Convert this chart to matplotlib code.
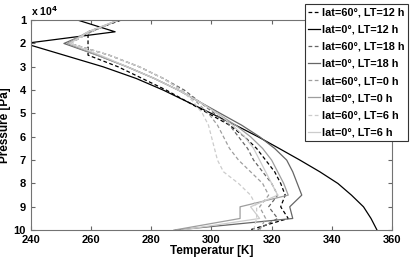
import matplotlib.pyplot as plt

# pressure levels in units of 1e4 Pa
p = [1.0, 1.5, 2.0, 2.5, 3.0, 3.5, 4.0, 4.5, 5.0, 5.5, 6.0, 6.5, 7.0, 7.5, 8.0, 8.5, 9.0, 9.5, 10.0]

# temperature profiles [K]
t60_12 = [270, 259, 259, 259, 269, 277, 285, 292, 299, 306, 311, 315, 318, 321, 323, 324.5, 323, 325.5, 312.5]
t0_12 = [255.6, 268, 238, 251, 264, 275, 284, 292, 300, 308, 315.5, 322.5, 329.4, 336, 342, 346.5, 350.5, 353, 355]
t60_18 = [269, 260, 253, 266, 276, 284, 291, 296, 301, 306, 309, 312, 314, 317, 320, 322, 319, 322, 315]
t0_18 = [269, 260, 251, 262, 272, 281, 289, 296, 303, 310, 316, 321, 325, 327, 328.5, 330, 326, 327, 288]
t60_0 = [269, 260, 253, 266, 276, 284, 290, 295, 299, 302, 304, 306, 309, 313, 317, 319, 316, 318, 316]
t0_0 = [269, 259, 252, 262, 272, 281, 289, 296, 302, 308, 313, 317, 320, 322, 324, 325.5, 309.5, 309.5, 287.5]
t60_6 = [269, 260, 253, 266, 276, 284, 290, 294, 297, 299, 300, 301, 302, 304, 309, 313, 315, 315, 314]
t0_6 = [269, 259, 253, 263, 272, 281, 289, 296, 302, 307, 311, 314, 316, 318, 320, 322, 313, 316, 290]

labels = ['lat=60°, LT=12 h', 'lat=0°, LT=12 h',
          'lat=60°, LT=18 h', 'lat=0°, LT=18 h',
          'lat=60°, LT=0 h', 'lat=0°, LT=0 h',
          'lat=60°, LT=6 h', 'lat=0°, LT=6 h']

plt.rcParams['font.family'] = ['Liberation Sans', 'DejaVu Sans']
plt.rcParams['font.weight'] = 'bold'

fig = plt.figure(figsize=(4.11, 2.58), dpi=100)
ax = fig.add_axes([0.075, 0.108, 0.879, 0.814])

series = [t60_12, t0_12, t60_18, t0_18, t60_0, t0_0, t60_6, t0_6]
colors = ['0.0', '0.0', '0.4', '0.4', '0.62', '0.62', '0.8', '0.8']
for i in range(8):
    if i % 2 == 0:
        ax.plot(series[i], p, color=colors[i], ls='--', dashes=(3, 2), lw=0.9, label=labels[i])
    else:
        ax.plot(series[i], p, color=colors[i], ls='-', lw=0.9, label=labels[i])

ax.set_xlim(240, 360)
ax.set_ylim(10, 1)
ax.set_xticks(range(240, 361, 20))
ax.set_yticks(range(1, 11))
ax.tick_params(direction='in', top=True, right=True, labelsize=8, length=3, color='0.4')
for s in ax.spines.values():
    s.set_color('0.45')
ax.set_xlabel('Temperatur [K]', fontsize=8.5, fontweight='bold', labelpad=0)
ax.set_ylabel('Pressure [Pa]', fontsize=8.5, fontweight='bold', labelpad=2)
ax.text(0.0, 1.01, 'x 10$^{\\mathbf{4}}$', transform=ax.transAxes, fontsize=7.5,
        fontweight='bold', va='bottom', ha='left')

leg = fig.legend(loc='upper right', bbox_to_anchor=(0.997, 0.992), fontsize=7.8,
                 handlelength=1.1, handletextpad=0.2, labelspacing=0.66,
                 borderpad=0.3, borderaxespad=0.2, fancybox=False, edgecolor='0.2', framealpha=1)
leg.get_frame().set_linewidth(0.8)

fig.savefig('out.png', dpi=100)
